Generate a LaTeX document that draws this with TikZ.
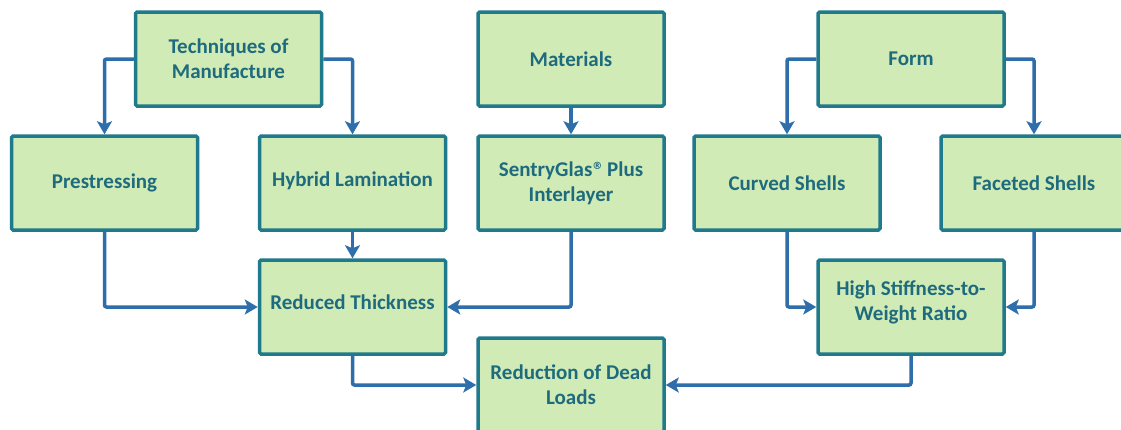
\documentclass[tikz,border=0pt]{standalone}
\usepackage{fontspec}
\setmainfont{Carlito}
\newfontfamily\symfont{DejaVu Sans}
\usetikzlibrary{arrows.meta}
\definecolor{boxfill}{HTML}{D1EBB6}
\definecolor{boxline}{HTML}{1F7A8C}
\definecolor{arrowc}{HTML}{2E6EAA}
\definecolor{txtc}{HTML}{1F6B7E}
\tikzset{
  box/.style={draw=boxline, line width=3.5pt, fill=boxfill, rounded corners=1.5pt,
    minimum width=186pt, minimum height=94pt, inner sep=0pt, align=center,
    text=txtc, font=\fontsize{21}{25}\selectfont\bfseries},
  conn/.style={draw=arrowc, line width=3.5pt, rounded corners=2pt,
    -{Stealth[length=13pt,width=15pt,inset=3pt]}}
}
\newcommand{\regmark}{{\symfont\fontsize{10}{10}\selectfont\raisebox{7pt}{®}}}
\begin{document}
\begin{tikzpicture}[x=1pt,y=-1pt]
\clip (0,0) rectangle (1121,429);
\fill[white] (0,0) rectangle (1121,429);
\node[box] (tech) at (228.5,59) {Techniques of\\Manufacture};
\node[box] (mat) at (571,59) {Materials};
\node[box] (form) at (911,59) {Form};
\node[box] (pre) at (104.5,183) {\raisebox{-2pt}{Prestressing}};
\node[box] (hyb) at (352.5,183) {\raisebox{8pt}{Hybrid Lamination}};
\node[box] (sen) at (571,183) {SentryGlas\regmark{} Plus\\Interlayer};
\node[box] (cur) at (787,183) {\raisebox{-2pt}{Curved Shells}};
\node[box] (fac) at (1034,183) {\raisebox{-2pt}{Faceted Shells}};
\node[box] (red) at (352.5,307) {\raisebox{9pt}{Reduced Thickness}};
\node[box] (high) at (911,307) {\raisebox{-1.5pt}[0pt][0pt]{\begin{tabular}{@{}c@{}}High Stiffness-to-\\Weight Ratio\end{tabular}}};
\node[box] (dead) at (571,385) {Reduction of Dead\\Loads};
\draw[conn] (tech.west) -| (pre.north);
\draw[conn] (tech.east) -| (hyb.north);
\draw[conn] (mat.south) -- (sen.north);
\draw[conn] (form.west) -| (cur.north);
\draw[conn] (form.east) -| (fac.north);
\draw[conn] (pre.south) |- (red.west);
\draw[conn] (hyb.south) -- (red.north);
\draw[conn] (sen.south) |- (red.east);
\draw[conn] (cur.south) |- (high.west);
\draw[conn] (fac.south) |- (high.east);
\draw[conn] (red.south) |- (dead.west);
\draw[conn] (high.south) |- (dead.east);
\end{tikzpicture}
\end{document}
